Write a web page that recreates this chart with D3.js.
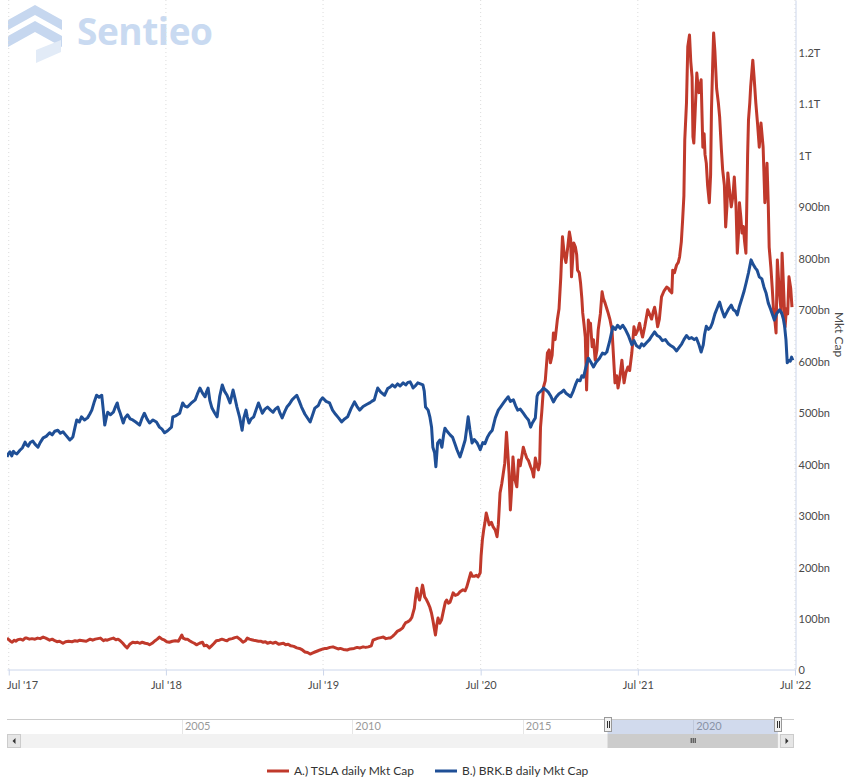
<!DOCTYPE html>
<html><head><meta charset="utf-8">
<script src="https://cdn.jsdelivr.net/npm/d3@7"></script>
<style>
html,body{margin:0;padding:0;background:#fff;}
svg{display:block;font-family:Lato,"Open Sans",sans-serif;}
</style></head><body>
<svg id="chart" width="848" height="784"></svg>
<script>
const seriesNames = ["A.) TSLA daily Mkt Cap", "B.) BRK.B daily Mkt Cap"];
const seriesColors = ["#c0392b", "#1f4f96"];
const yTitle = "Mkt Cap";
const yTicks = [0,100,200,300,400,500,600,700,800,900,1000,1100,1200];
const yTickLabels = ["0","100bn","200bn","300bn","400bn","500bn","600bn","700bn","800bn","900bn","1T","1.1T","1.2T"];
const xTicks = ["2017-07-01","2018-07-01","2019-07-01","2020-07-01","2021-07-01","2022-07-01"];
const xTickLabels = ["Jul '17","Jul '18","Jul '19","Jul '20","Jul '21","Jul '22"];
const navTicks = ["2005-01-01","2010-01-01","2015-01-01","2020-01-01"];
const navTickLabels = ["2005","2010","2015","2020"];

// values in billions USD
const tslaData = [["2017-06-27",60],["2017-07-01",57],["2017-07-05",54],["2017-07-09",52],["2017-07-14",56],["2017-07-18",54],["2017-07-22",57],["2017-07-28",58],["2017-08-03",56],["2017-08-08",60],["2017-08-12",60],["2017-08-18",58],["2017-08-24",59],["2017-08-31",58],["2017-09-06",60],["2017-09-12",59],["2017-09-19",62],["2017-09-25",60],["2017-10-04",56],["2017-10-10",58],["2017-10-16",55],["2017-10-21",53],["2017-10-27",54],["2017-11-04",50],["2017-11-10",53],["2017-11-17",54],["2017-11-25",53],["2017-12-02",55],["2017-12-08",54],["2017-12-13",56],["2017-12-20",55],["2017-12-28",54],["2018-01-06",58],["2018-01-12",56],["2018-01-18",58],["2018-01-24",59],["2018-01-30",60],["2018-02-06",55],["2018-02-10",57],["2018-02-15",56],["2018-02-21",58],["2018-03-01",60],["2018-03-07",57],["2018-03-12",58],["2018-03-17",55],["2018-03-23",50],["2018-03-28",45],["2018-04-02",41],["2018-04-08",48],["2018-04-15",52],["2018-04-21",51],["2018-04-26",52],["2018-05-01",50],["2018-05-07",52],["2018-05-14",50],["2018-05-20",49],["2018-05-24",47],["2018-05-30",50],["2018-06-06",55],["2018-06-11",58],["2018-06-16",62],["2018-06-22",58],["2018-06-28",56],["2018-07-03",53],["2018-07-09",52],["2018-07-16",54],["2018-07-23",55],["2018-07-30",54],["2018-08-07",66],["2018-08-10",60],["2018-08-15",58],["2018-08-20",58],["2018-08-25",55],["2018-08-31",52],["2018-09-05",50],["2018-09-10",47],["2018-09-17",50],["2018-09-24",52],["2018-09-28",45],["2018-10-04",46],["2018-10-10",41],["2018-10-15",45],["2018-10-21",50],["2018-10-26",55],["2018-11-02",56],["2018-11-08",58],["2018-11-15",56],["2018-11-20",55],["2018-11-25",58],["2018-12-02",59],["2018-12-08",61],["2018-12-13",62],["2018-12-20",58],["2018-12-27",52],["2019-01-02",55],["2019-01-06",60],["2019-01-11",58],["2019-01-16",57],["2019-01-21",56],["2019-01-27",55],["2019-02-01",54],["2019-02-06",54],["2019-02-12",52],["2019-02-17",53],["2019-02-22",50],["2019-03-01",52],["2019-03-06",50],["2019-03-13",52],["2019-03-20",48],["2019-03-25",49],["2019-03-31",50],["2019-04-05",47],["2019-04-11",48],["2019-04-17",45],["2019-04-24",44],["2019-05-01",41],["2019-05-07",40],["2019-05-14",37],["2019-05-20",33],["2019-05-26",32],["2019-06-01",29],["2019-06-06",31],["2019-06-12",33],["2019-06-18",35],["2019-06-24",37],["2019-07-01",39],["2019-07-06",40],["2019-07-10",40],["2019-07-17",42],["2019-07-24",43],["2019-07-30",41],["2019-08-05",39],["2019-08-10",40],["2019-08-17",38],["2019-08-26",37],["2019-09-02",39],["2019-09-11",40],["2019-09-18",42],["2019-09-25",41],["2019-10-02",43],["2019-10-08",42],["2019-10-14",43],["2019-10-21",45],["2019-10-25",56],["2019-10-31",58],["2019-11-06",60],["2019-11-12",61],["2019-11-18",62],["2019-11-24",59],["2019-11-30",60],["2019-12-04",60],["2019-12-10",64],["2019-12-15",68],["2019-12-20",73],["2019-12-27",76],["2020-01-02",80],["2020-01-05",85],["2020-01-09",90],["2020-01-12",91],["2020-01-16",93],["2020-01-19",95],["2020-01-23",100],["2020-01-26",109],["2020-01-29",118],["2020-02-01",140],["2020-02-04",157],["2020-02-06",145],["2020-02-10",134],["2020-02-13",145],["2020-02-17",163],["2020-02-20",150],["2020-02-22",140],["2020-02-26",135],["2020-03-01",128],["2020-03-05",120],["2020-03-09",108],["2020-03-12",95],["2020-03-15",80],["2020-03-18",66],["2020-03-21",85],["2020-03-24",99],["2020-03-28",89],["2020-04-01",95],["2020-04-06",115],["2020-04-10",130],["2020-04-13",134],["2020-04-17",128],["2020-04-21",130],["2020-04-25",140],["2020-04-28",148],["2020-05-03",143],["2020-05-09",145],["2020-05-14",150],["2020-05-21",154],["2020-05-26",152],["2020-05-30",160],["2020-06-03",172],["2020-06-08",187],["2020-06-12",180],["2020-06-16",180],["2020-06-21",182],["2020-06-25",179],["2020-06-30",187],["2020-07-02",220],["2020-07-05",251],["2020-07-08",270],["2020-07-11",285],["2020-07-14",303],["2020-07-18",290],["2020-07-21",280],["2020-07-26",285],["2020-07-30",276],["2020-08-04",270],["2020-08-08",257],["2020-08-11",280],["2020-08-15",342],["2020-08-19",360],["2020-08-22",377],["2020-08-26",400],["2020-08-30",460],["2020-09-02",420],["2020-09-05",380],["2020-09-08",309],["2020-09-11",350],["2020-09-14",412],["2020-09-18",370],["2020-09-23",354],["2020-09-27",406],["2020-10-01",395],["2020-10-05",415],["2020-10-08",431],["2020-10-12",420],["2020-10-16",410],["2020-10-20",405],["2020-10-25",393],["2020-10-29",385],["2020-11-01",373],["2020-11-05",410],["2020-11-09",395],["2020-11-12",387],["2020-11-15",400],["2020-11-17",470],["2020-11-20",500],["2020-11-24",548],["2020-11-28",560],["2020-12-03",614],["2020-12-07",620],["2020-12-10",595],["2020-12-14",610],["2020-12-17",653],["2020-12-21",640],["2020-12-26",678],["2020-12-30",700],["2021-01-03",760],["2021-01-07",840],["2021-01-10",815],["2021-01-12",801],["2021-01-15",790],["2021-01-19",818],["2021-01-23",849],["2021-01-26",835],["2021-01-28",762],["2021-01-31",800],["2021-02-02",828],["2021-02-06",820],["2021-02-09",805],["2021-02-11",775],["2021-02-15",770],["2021-02-18",750],["2021-02-21",720],["2021-02-23",692],["2021-02-26",670],["2021-03-01",645],["2021-03-04",542],["2021-03-06",600],["2021-03-08",678],["2021-03-11",665],["2021-03-13",672],["2021-03-17",626],["2021-03-20",640],["2021-03-24",600],["2021-03-28",620],["2021-03-31",659],["2021-04-05",690],["2021-04-09",733],["2021-04-12",720],["2021-04-16",711],["2021-04-20",700],["2021-04-23",692],["2021-04-27",680],["2021-05-02",659],["2021-05-06",600],["2021-05-09",556],["2021-05-13",570],["2021-05-16",546],["2021-05-20",565],["2021-05-25",600],["2021-05-30",556],["2021-06-03",575],["2021-06-08",587],["2021-06-12",580],["2021-06-17",614],["2021-06-22",665],["2021-06-26",650],["2021-07-01",659],["2021-07-05",672],["2021-07-09",655],["2021-07-12",645],["2021-07-17",665],["2021-07-24",698],["2021-07-28",690],["2021-08-02",680],["2021-08-06",695],["2021-08-09",703],["2021-08-12",690],["2021-08-16",665],["2021-08-20",680],["2021-08-25",723],["2021-08-31",735],["2021-09-06",742],["2021-09-10",740],["2021-09-13",735],["2021-09-18",731],["2021-09-20",775],["2021-09-24",770],["2021-09-29",785],["2021-10-03",790],["2021-10-06",801],["2021-10-10",830],["2021-10-13",872],["2021-10-16",920],["2021-10-18",1028],["2021-10-22",1100],["2021-10-25",1209],["2021-10-29",1232],["2021-11-01",1180],["2021-11-04",1150],["2021-11-06",1034],["2021-11-08",1022],["2021-11-11",1080],["2021-11-15",1158],["2021-11-18",1130],["2021-11-20",1120],["2021-11-25",1145],["2021-11-29",1014],["2021-12-02",1040],["2021-12-04",1000],["2021-12-07",983],["2021-12-10",940],["2021-12-14",906],["2021-12-17",960],["2021-12-19",1086],["2021-12-22",1180],["2021-12-24",1236],["2021-12-27",1200],["2021-12-31",1128],["2022-01-04",1100],["2022-01-07",1073],["2022-01-11",1010],["2022-01-14",970],["2022-01-18",940],["2022-01-21",859],["2022-01-24",900],["2022-01-26",964],["2022-01-30",930],["2022-02-03",898],["2022-02-07",920],["2022-02-10",956],["2022-02-14",900],["2022-02-17",808],["2022-02-20",850],["2022-02-22",906],["2022-02-25",880],["2022-02-28",847],["2022-03-03",860],["2022-03-06",830],["2022-03-09",808],["2022-03-11",900],["2022-03-13",1000],["2022-03-15",1067],["2022-03-18",1100],["2022-03-20",1131],["2022-03-25",1183],["2022-03-28",1150],["2022-04-01",1100],["2022-04-05",1060],["2022-04-09",1014],["2022-04-13",1061],["2022-04-18",1014],["2022-04-22",906],["2022-04-25",950],["2022-04-27",983],["2022-04-30",900],["2022-05-02",820],["2022-05-06",780],["2022-05-09",742],["2022-05-12",700],["2022-05-15",680],["2022-05-18",653],["2022-05-21",795],["2022-05-25",740],["2022-05-30",692],["2022-06-01",808],["2022-06-04",750],["2022-06-08",665],["2022-06-11",700],["2022-06-14",690],["2022-06-17",762],["2022-06-21",740],["2022-06-24",703]];

const brkData = [["2017-06-27",412],["2017-06-30",418],["2017-07-04",422],["2017-07-08",414],["2017-07-12",423],["2017-07-15",420],["2017-07-20",418],["2017-07-27",425],["2017-08-02",430],["2017-08-08",441],["2017-08-11",436],["2017-08-15",433],["2017-08-20",440],["2017-08-26",443],["2017-08-31",437],["2017-09-07",431],["2017-09-12",440],["2017-09-19",449],["2017-09-26",452],["2017-10-04",459],["2017-10-10",455],["2017-10-16",462],["2017-10-23",464],["2017-10-29",458],["2017-11-04",461],["2017-11-10",455],["2017-11-20",445],["2017-11-24",448],["2017-11-27",451],["2017-12-02",470],["2017-12-06",484],["2017-12-12",480],["2017-12-17",490],["2017-12-24",484],["2017-12-31",488],["2018-01-05",495],["2018-01-10",503],["2018-01-16",520],["2018-01-21",532],["2018-01-27",528],["2018-02-02",532],["2018-02-06",500],["2018-02-09",474],["2018-02-13",490],["2018-02-16",499],["2018-02-22",494],["2018-03-01",499],["2018-03-06",510],["2018-03-10",517],["2018-03-13",506],["2018-03-17",497],["2018-03-24",478],["2018-03-28",488],["2018-04-03",494],["2018-04-09",486],["2018-04-15",484],["2018-04-22",480],["2018-05-01",474],["2018-05-07",488],["2018-05-12",497],["2018-05-18",486],["2018-05-24",478],["2018-06-01",484],["2018-06-09",480],["2018-06-16",470],["2018-06-22",466],["2018-06-28",459],["2018-07-05",463],["2018-07-14",470],["2018-07-17",490],["2018-07-24",492],["2018-08-02",497],["2018-08-09",517],["2018-08-14",511],["2018-08-20",509],["2018-08-28",516],["2018-09-07",523],["2018-09-12",534],["2018-09-18",546],["2018-09-24",536],["2018-09-30",529],["2018-10-03",538],["2018-10-07",546],["2018-10-11",522],["2018-10-16",507],["2018-10-22",498],["2018-10-28",490],["2018-11-03",530],["2018-11-09",552],["2018-11-14",540],["2018-11-20",532],["2018-11-27",517],["2018-12-04",542],["2018-12-09",524],["2018-12-13",509],["2018-12-19",490],["2018-12-25",464],["2018-12-29",488],["2019-01-03",503],["2019-01-06",490],["2019-01-10",478],["2019-01-15",486],["2019-01-21",490],["2019-01-27",505],["2019-02-01",517],["2019-02-05",508],["2019-02-10",497],["2019-02-16",505],["2019-02-22",509],["2019-03-01",503],["2019-03-07",499],["2019-03-12",505],["2019-03-18",509],["2019-03-23",497],["2019-03-28",488],["2019-04-03",500],["2019-04-08",509],["2019-04-14",515],["2019-04-20",523],["2019-04-26",528],["2019-05-01",532],["2019-05-06",522],["2019-05-12",509],["2019-05-20",495],["2019-06-01",480],["2019-06-06",492],["2019-06-12",507],["2019-06-20",512],["2019-06-25",522],["2019-06-30",527],["2019-07-08",520],["2019-07-16",517],["2019-07-23",503],["2019-07-30",495],["2019-08-06",488],["2019-08-13",480],["2019-08-20",486],["2019-08-27",490],["2019-09-04",506],["2019-09-12",519],["2019-09-18",510],["2019-09-24",503],["2019-10-02",510],["2019-10-10",514],["2019-10-17",517],["2019-10-22",520],["2019-10-28",523],["2019-11-01",535],["2019-11-05",546],["2019-11-12",538],["2019-11-21",532],["2019-11-28",545],["2019-12-04",548],["2019-12-09",552],["2019-12-15",548],["2019-12-21",554],["2019-12-27",550],["2020-01-03",556],["2020-01-09",552],["2020-01-14",557],["2020-01-19",558],["2020-01-23",552],["2020-01-26",546],["2020-01-31",550],["2020-02-06",556],["2020-02-12",554],["2020-02-18",552],["2020-02-21",540],["2020-02-24",509],["2020-03-01",503],["2020-03-05",490],["2020-03-09",470],["2020-03-12",431],["2020-03-16",420],["2020-03-19",393],["2020-03-23",439],["2020-03-28",445],["2020-04-02",431],["2020-04-06",455],["2020-04-09",468],["2020-04-14",462],["2020-04-21",455],["2020-04-27",450],["2020-05-02",438],["2020-05-07",426],["2020-05-11",418],["2020-05-14",412],["2020-05-19",425],["2020-05-26",445],["2020-05-30",470],["2020-06-02",490],["2020-06-06",465],["2020-06-11",439],["2020-06-16",446],["2020-06-23",439],["2020-06-27",432],["2020-06-30",426],["2020-07-06",440],["2020-07-11",438],["2020-07-17",451],["2020-07-22",458],["2020-07-28",464],["2020-08-04",488],["2020-08-11",503],["2020-08-17",510],["2020-08-23",517],["2020-08-29",524],["2020-09-03",529],["2020-09-08",520],["2020-09-15",523],["2020-09-20",512],["2020-09-25",503],["2020-10-01",505],["2020-10-08",497],["2020-10-14",490],["2020-10-20",484],["2020-10-25",470],["2020-10-29",478],["2020-11-05",488],["2020-11-09",530],["2020-11-12",536],["2020-11-18",540],["2020-11-24",546],["2020-11-30",542],["2020-12-05",538],["2020-12-11",530],["2020-12-17",519],["2020-12-23",528],["2020-12-30",535],["2021-01-05",538],["2021-01-10",542],["2021-01-15",536],["2021-01-20",533],["2021-01-26",529],["2021-02-01",540],["2021-02-06",552],["2021-02-11",562],["2021-02-17",560],["2021-02-21",570],["2021-02-25",567],["2021-03-02",585],["2021-03-08",604],["2021-03-14",596],["2021-03-20",587],["2021-03-26",596],["2021-04-03",604],["2021-04-10",614],["2021-04-15",612],["2021-04-20",616],["2021-04-26",635],["2021-05-04",665],["2021-05-10",660],["2021-05-15",668],["2021-05-21",662],["2021-05-27",668],["2021-06-02",660],["2021-06-09",648],["2021-06-17",630],["2021-06-22",638],["2021-06-28",628],["2021-07-05",624],["2021-07-10",632],["2021-07-15",628],["2021-07-21",634],["2021-07-28",640],["2021-08-03",648],["2021-08-09",655],["2021-08-15",648],["2021-08-21",645],["2021-08-27",638],["2021-09-03",640],["2021-09-10",632],["2021-09-16",628],["2021-09-22",625],["2021-09-29",618],["2021-10-05",625],["2021-10-11",632],["2021-10-16",640],["2021-10-22",648],["2021-10-28",642],["2021-11-03",644],["2021-11-09",640],["2021-11-14",643],["2021-11-20",630],["2021-11-25",616],["2021-11-30",630],["2021-12-03",650],["2021-12-07",666],["2021-12-12",660],["2021-12-17",664],["2021-12-21",672],["2021-12-27",690],["2022-01-03",705],["2022-01-07",713],["2022-01-12",698],["2022-01-18",684],["2022-01-23",692],["2022-01-28",700],["2022-02-03",707],["2022-02-08",698],["2022-02-13",695],["2022-02-17",688],["2022-02-22",705],["2022-02-28",721],["2022-03-05",735],["2022-03-10",752],["2022-03-15",770],["2022-03-21",795],["2022-03-26",786],["2022-03-31",779],["2022-04-04",775],["2022-04-09",762],["2022-04-15",758],["2022-04-20",742],["2022-04-25",730],["2022-04-30",711],["2022-05-05",700],["2022-05-10",688],["2022-05-14",678],["2022-05-19",690],["2022-05-26",698],["2022-05-31",692],["2022-06-04",680],["2022-06-07",665],["2022-06-10",640],["2022-06-13",595],["2022-06-16",600],["2022-06-20",598],["2022-06-23",606],["2022-06-26",600]];

const parse = d3.timeParse("%Y-%m-%d");
const svg = d3.select("#chart");
const plot = {left: 7, right: 795, top: 0, bottom: 669};

// watermark logo
const logo = svg.append("g").attr("class", "logo");
logo.append("path").attr("d", "M8,20 L35,5 L62,20 L62,30 L35,15 L8,30 Z").attr("fill", "#c6d7ef");
logo.append("path").attr("d", "M8,36 L35,21 L62,36 L62,47 L35,32 L8,47 Z").attr("fill", "#c6d7ef");
logo.append("path").attr("d", "M36,50 L61,40 L61,52 L36,63 Z").attr("fill", "#e2ebf7");
logo.append("text").attr("x", 77).attr("y", 45).attr("font-family", "'Open Sans',sans-serif")
  .attr("font-weight", 700).attr("font-size", 37).attr("fill", "#c9daf1").attr("textLength", 136).text("Sentieo");

const x = d3.scaleTime().domain([parse("2017-06-27"), parse("2022-07-01")]).range([plot.left, plot.right]);
const y = d3.scaleLinear().domain([0, 1300]).range([plot.bottom, plot.top]);

// vertical dotted grid
svg.append("g").selectAll("line").data(xTicks).join("line")
  .attr("x1", d => x(parse(d))).attr("x2", d => x(parse(d)))
  .attr("y1", plot.top).attr("y2", plot.bottom)
  .attr("stroke", "#dcdcdc").attr("stroke-dasharray", "1,3").attr("stroke-width", 1);

// x axis
const xAxis = d3.axisBottom(x).tickValues(xTicks.map(parse))
  .tickFormat((d, i) => xTickLabels[i]).tickSizeInner(6).tickSizeOuter(0).tickPadding(6);
const gx = svg.append("g").attr("transform", `translate(0,${plot.bottom + 0.5})`).call(xAxis);
gx.select(".domain").attr("stroke", "#ccd6eb");
gx.selectAll(".tick line").attr("stroke", "#ccd6eb");
gx.selectAll(".tick text").attr("font-family", "Lato,sans-serif").attr("font-size", 11).attr("fill", "#4a4a4a")
  .attr("dy", "0.71em");
gx.selectAll(".tick text").each(function() {
  const t = d3.select(this);
  const w = this.getComputedTextLength();
  const tx = +d3.select(this.parentNode).attr("transform").match(/translate\(([-\d.]+)/)[1];
  if (tx - w / 2 < plot.left) t.attr("x", plot.left - tx + w / 2);
});

// y axis (right)
const yAxis = d3.axisRight(y).tickValues(yTicks).tickFormat((d, i) => yTickLabels[i]).tickSize(0).tickPadding(3);
const gy = svg.append("g").attr("transform", `translate(${plot.right + 0.5},0)`).call(yAxis);
gy.select(".domain").attr("stroke", "#ccd6eb");
gy.selectAll(".tick text").attr("font-family", "Lato,sans-serif").attr("font-size", 11).attr("fill", "#4a4a4a")
  .attr("dy", "0.45em");

svg.append("text").attr("transform", `translate(835,${(plot.top + plot.bottom) / 2}) rotate(90)`)
  .attr("text-anchor", "middle").attr("font-size", 12).attr("fill", "#4a4a4a").text(yTitle);

// lines
svg.append("defs").append("clipPath").attr("id", "clip").append("rect")
  .attr("x", plot.left).attr("y", plot.top).attr("width", plot.right - plot.left).attr("height", plot.bottom - plot.top);
const line = d3.line().x(d => x(parse(d[0]))).y(d => y(d[1]));
const lines = svg.append("g").attr("clip-path", "url(#clip)");
[tslaData, brkData].forEach((data, i) => {
  lines.append("path").datum(data).attr("d", line).attr("fill", "none")
    .attr("stroke", seriesColors[i]).attr("stroke-width", 3).attr("stroke-linejoin", "round");
});

// navigator
const nav = {left: 7, right: 794, top: 719, bottom: 734};
const xn = d3.scaleTime().domain([parse("1999-11-15"), parse("2022-08-20")]).range([7, 783]);
const ng = svg.append("g");
ng.selectAll("line.g").data(navTicks).join("line").attr("class", "g")
  .attr("x1", d => Math.round(xn(parse(d))) + 0.5).attr("x2", d => Math.round(xn(parse(d))) + 0.5)
  .attr("y1", nav.top).attr("y2", nav.bottom).attr("stroke", "#e6e6e6");
ng.selectAll("text").data(navTicks).join("text")
  .attr("x", d => xn(parse(d)) + 3).attr("y", nav.top + 11).attr("font-size", 11).attr("fill", "#999")
  .text((d, i) => navTickLabels[i]);
const selL = xn(parse("2017-06-27")), selR = xn(parse("2022-06-26"));
ng.append("rect").attr("x", selL).attr("y", nav.top).attr("width", selR - selL).attr("height", nav.bottom - nav.top)
  .attr("fill", "rgba(102,133,194,0.3)");
ng.append("line").attr("x1", nav.left).attr("x2", nav.right).attr("y1", nav.top + 0.5).attr("y2", nav.top + 0.5)
  .attr("stroke", "#cccccc");
// scrollbar
const sb = {top: 734, h: 14};
ng.append("rect").attr("x", nav.left).attr("y", sb.top).attr("width", nav.right - nav.left).attr("height", sb.h).attr("fill", "#f2f2f2");
ng.append("rect").attr("x", selL).attr("y", sb.top).attr("width", selR - selL).attr("height", sb.h).attr("fill", "#cccccc");
[-2, 0, 2].forEach(o => ng.append("line").attr("x1", (selL + selR) / 2 + o + 0.5).attr("x2", (selL + selR) / 2 + o + 0.5)
  .attr("y1", sb.top + 4).attr("y2", sb.top + 9).attr("stroke", "#333"));
[[nav.left, -1], [nav.right - 14, 1]].forEach(([bx, dir]) => {
  ng.append("rect").attr("x", bx + 0.5).attr("y", sb.top + 0.5).attr("width", 13).attr("height", 13)
    .attr("fill", "#e6e6e6").attr("stroke", "#cccccc");
  const cx = bx + 7, cy = sb.top + 7;
  ng.append("path").attr("d", dir < 0 ? `M${cx + 1.5},${cy - 3} L${cx - 1.5},${cy} L${cx + 1.5},${cy + 3} Z` : `M${cx - 1.5},${cy - 3} L${cx + 1.5},${cy} L${cx - 1.5},${cy + 3} Z`)
    .attr("fill", "#333");
});
// handles
[selL, selR].forEach(hx => {
  const hxr = Math.round(hx);
  ng.append("rect").attr("x", hxr - 3.5).attr("y", nav.top - 1.5).attr("width", 7).attr("height", 14)
    .attr("fill", "#f2f2f2").attr("stroke", "#999").attr("stroke-width", 1);
  [-1, 1].forEach(o => ng.append("line").attr("x1", hxr + o + 0.5).attr("x2", hxr + o + 0.5)
    .attr("y1", nav.top + 2).attr("y2", nav.top + 9).attr("stroke", "#333"));
});

// legend
const lg = svg.append("g");
let lx = 0;
seriesNames.forEach((name, i) => {
  const g = lg.append("g").attr("transform", `translate(${lx},0)`);
  g.append("line").attr("x1", 0).attr("x2", 22).attr("y1", 771).attr("y2", 771)
    .attr("stroke", seriesColors[i]).attr("stroke-width", 3);
  const t = g.append("text").attr("x", 27).attr("y", 775).attr("font-size", 12).attr("fill", "#333").text(name);
  lx += 27 + t.node().getComputedTextLength() + 21;
});
const totalW = lx - 21;
lg.attr("transform", `translate(${Math.round(428 - totalW / 2)},0)`);
</script>
</body></html>
